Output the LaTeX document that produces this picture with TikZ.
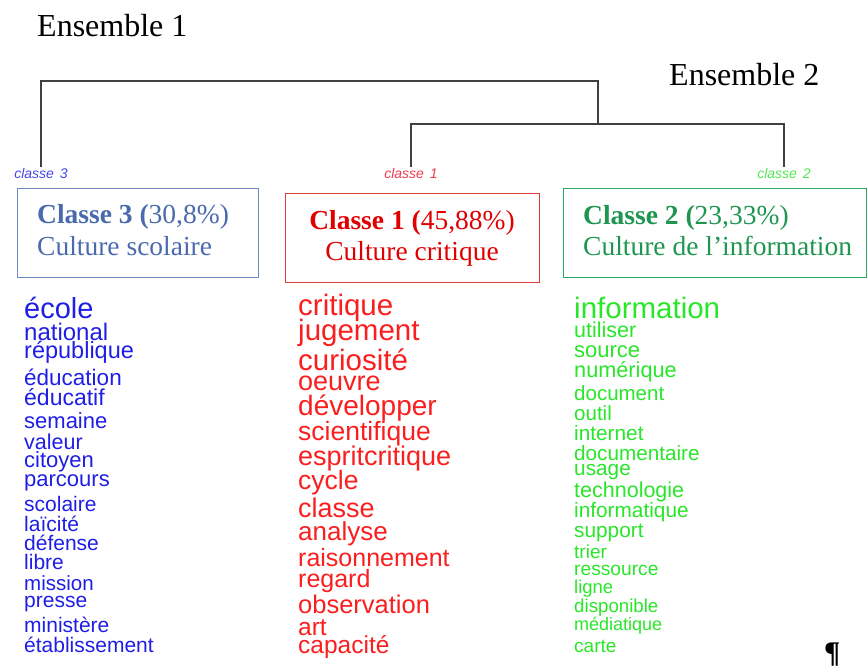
\documentclass[tikz,border=0pt]{standalone}
\usepackage{fontspec}
\setmainfont{Liberation Serif}
\newfontfamily\arialf{Liberation Sans}
\definecolor{dgray}{RGB}{64,64,64}
\definecolor{bBox}{RGB}{110,138,192}
\definecolor{bTxt}{RGB}{74,106,174}
\definecolor{rBox}{RGB}{224,60,60}
\definecolor{rTxt}{RGB}{224,0,0}
\definecolor{gBox}{RGB}{40,170,100}
\definecolor{gTxt}{RGB}{30,150,80}
\definecolor{bW}{RGB}{30,30,230}
\definecolor{rW}{RGB}{250,30,30}
\definecolor{gW}{RGB}{40,230,40}
\definecolor{bL}{RGB}{70,70,230}
\definecolor{rL}{RGB}{240,60,80}
\definecolor{gL}{RGB}{80,230,80}
\begin{document}
\begin{tikzpicture}[x=1bp,y=-1bp,
  ens/.style={font=\fontsize{32bp}{32bp}\selectfont, anchor=base west, inner sep=0},
  cls/.style={font=\arialf\itshape\fontsize{14bp}{14bp}\selectfont, anchor=base, inner sep=0, outer sep=1bp},
  hd/.style={font=\fontsize{27.5bp}{30bp}\selectfont, inner sep=0, anchor=base west},
  hdc/.style={font=\fontsize{27.5bp}{30bp}\selectfont, inner sep=0, anchor=base},
  cbox/.style={draw, line width=1.2bp, anchor=north west, inner sep=0},
  dline/.style={draw=dgray, line width=1.6bp},
  wrd/.style={anchor=base west, inner sep=0}
]
\useasboundingbox (0,0) rectangle (868,668);

\node[ens] (e1) at (37,36.7) {Ensemble 1};
\node[ens] (e2) at (669,86) {Ensemble 2};

\node[cls, text=bL] (c3) at (41,178) {classe\hspace{6bp}3};
\node[cls, text=rL] (c1) at (411,178) {classe\hspace{6bp}1};
\node[cls, text=gL] (c2) at (784,178) {classe\hspace{6bp}2};

\coordinate (top) at (598,81);
\coordinate (mid) at (598,124);
\draw[dline] (c3.north) |- (top) -- (mid);
\draw[dline] (c1.north) |- (mid) -| (c2.north);

\node[cbox, draw=bBox, minimum width=241bp, minimum height=89bp] (b3) at (17,188) {};
\node[cbox, draw=rBox, minimum width=254bp, minimum height=89bp] (b1) at (285,193) {};
\node[cbox, draw=gBox, minimum width=303bp, minimum height=89bp] (b2) at (563,188) {};

\node[hd, text=bTxt] (h3a) at (37,223) {\textbf{Classe 3 (}30,8\%)};
\node[hd, text=bTxt] (h3b) at (37,255) {Culture scolaire};
\node[hdc, text=rTxt] (h1a) at (412,229) {\textbf{Classe 1 (}45,88\%)};
\node[hdc, text=rTxt] (h1b) at (412,260) {Culture critique};
\node[hd, text=gTxt] (h2a) at (583,224) {\textbf{Classe 2 (}23,33\%)};
\node[hd, text=gTxt] (h2b) at (583,255) {Culture de l’information};

\foreach \w/\s/\yy [count=\i] in {école/29/318, national/24/340, république/23.5/358, éducation/22.5/385, éducatif/23/405, semaine/22/428, valeur/21.5/449, citoyen/22/467, parcours/22/486, scolaire/21/511, laïcité/21/531, défense/21/550, libre/21/569, mission/20.5/590, presse/21/607, ministère/21/632, établissement/21/652}
  \node[wrd, text=bW, font=\arialf\fontsize{\s bp}{\s bp}\selectfont] (bw\i) at (24,\yy) {\w};

\foreach \w/\s/\yy [count=\i] in {critique/29.5/315, jugement/29.5/340, curiosité/29.5/370, oeuvre/27/390, développer/28/415, scientifique/26.5/440, espritcritique/27/465, cycle/26.5/489, classe/27/517, analyse/26/540, raisonnement/25/566, regard/25/587, observation/25.5/613, art/24.5/635, capacité/24.5/653}
  \node[wrd, text=rW, font=\arialf\fontsize{\s bp}{\s bp}\selectfont] (rw\i) at (298,\yy) {\w};

\foreach \w/\s/\yy [count=\i] in {information/29.5/318, utiliser/21.5/337, source/22/357, numérique/21.7/377, document/20.5/400, outil/20.5/420, internet/20.8/440, documentaire/20.7/460, usage/20.8/475, technologie/21.5/497, informatique/20.8/517, support/20.8/537, trier/19/558, ressource/19.2/575, ligne/18.5/593, disponible/18.7/612, médiatique/18/630, carte/19/652}
  \node[wrd, text=gW, font=\arialf\fontsize{\s bp}{\s bp}\selectfont] (gw\i) at (574,\yy) {\w};

\node[wrd, font=\bfseries\fontsize{30bp}{30bp}\selectfont] (pil) at (824,662) {¶};
\end{tikzpicture}
\end{document}
